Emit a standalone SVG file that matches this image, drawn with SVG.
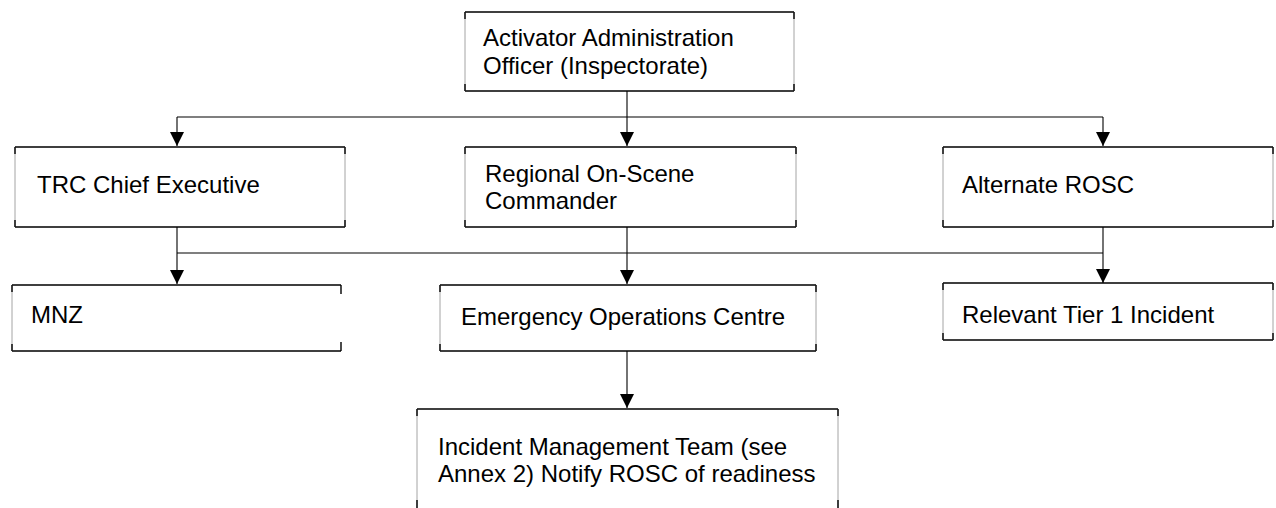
<svg xmlns="http://www.w3.org/2000/svg" width="1276" height="508" viewBox="0 0 1276 508">
<style>
  .bg{fill:#fff;stroke:none}
  .tb{stroke:#000;stroke-width:1.4;fill:none}
  .sd{stroke:#9a9a9a;stroke-width:0.9;fill:none}
  .tk{stroke:#000;stroke-width:1.4;fill:none}
  .lbl{font-family:"Liberation Sans",Arial,sans-serif;font-size:24px;fill:#000}
  .cn{stroke:#000;stroke-width:1.1;fill:none}
</style>
<defs>
  <marker id="ah" markerUnits="userSpaceOnUse" markerWidth="14" markerHeight="14" refX="14" refY="7" orient="auto">
    <path d="M0,0 L14,7 L0,14 Z" fill="#000"/>
  </marker>
</defs>
<rect width="1276" height="508" fill="#fff"/>

<g id="connectors">
  <path class="cn" d="M627,91 V117"/>
  <path class="cn" d="M177,117 H1103"/>
  <path class="cn" d="M177,117 V146" marker-end="url(#ah)"/>
  <path class="cn" d="M627,117 V146" marker-end="url(#ah)"/>
  <path class="cn" d="M1103,117 V146" marker-end="url(#ah)"/>
  <path class="cn" d="M177,227 V284" marker-end="url(#ah)"/>
  <path class="cn" d="M627,227 V284" marker-end="url(#ah)"/>
  <path class="cn" d="M1103,227 V283" marker-end="url(#ah)"/>
  <path class="cn" d="M177,253 H1103"/>
  <path class="cn" d="M627,351 V408" marker-end="url(#ah)"/>
</g>

<g id="aao">
  <rect class="bg" x="465" y="12" width="329" height="79"/>
  <path class="tb" d="M465,12 H794 M465,91 H794"/>
  <path class="sd" d="M465,12 V91 M794,12 V91"/>
  <path class="tk" d="M465,12 v7 M465,91 v-7 M794,12 v7 M794,91 v-7"/>
  <text class="lbl" x="483" y="46">Activator Administration</text>
  <text class="lbl" x="483" y="74">Officer (Inspectorate)</text>
</g>

<g id="trc">
  <rect class="bg" x="15" y="147" width="330" height="80"/>
  <path class="tb" d="M15,147 H345 M15,227 H345"/>
  <path class="sd" d="M15,147 V227 M345,147 V227"/>
  <path class="tk" d="M15,147 v7 M15,227 v-7 M345,147 v7 M345,227 v-7"/>
  <text class="lbl" x="37" y="193">TRC Chief Executive</text>
</g>

<g id="rosc">
  <rect class="bg" x="465" y="147" width="331" height="80"/>
  <path class="tb" d="M465,147 H796 M465,227 H796"/>
  <path class="sd" d="M465,147 V227 M796,147 V227"/>
  <path class="tk" d="M465,147 v7 M465,227 v-7 M796,147 v7 M796,227 v-7"/>
  <text class="lbl" x="485" y="182">Regional On-Scene</text>
  <text class="lbl" x="485" y="209">Commander</text>
</g>

<g id="alt">
  <rect class="bg" x="943" y="147" width="330" height="80"/>
  <path class="tb" d="M943,147 H1273 M943,227 H1273"/>
  <path class="sd" d="M943,147 V227 M1273,147 V227"/>
  <path class="tk" d="M943,147 v7 M943,227 v-7 M1273,147 v7 M1273,227 v-7"/>
  <text class="lbl" x="962" y="193">Alternate ROSC</text>
</g>

<g id="mnz">
  <rect class="bg" x="12" y="285" width="329" height="66"/>
  <path class="tb" d="M12,285 H341 M12,351 H341"/>
  <path class="sd" d="M12,285 V351"/>
  <path class="tk" d="M12,285 v7 M12,351 v-7 M341,285 v9 M341,351 v-9"/>
  <text class="lbl" x="31" y="323">MNZ</text>
</g>

<g id="eoc">
  <rect class="bg" x="440" y="285" width="376" height="66"/>
  <path class="tb" d="M440,285 H816 M440,351 H816"/>
  <path class="sd" d="M440,285 V351 M816,285 V351"/>
  <path class="tk" d="M440,285 v7 M440,351 v-7 M816,285 v7 M816,351 v-7"/>
  <text class="lbl" x="461" y="325">Emergency Operations Centre</text>
</g>

<g id="tier1">
  <rect class="bg" x="943" y="283" width="330" height="57"/>
  <path class="tb" d="M943,283 H1273 M943,340 H1273"/>
  <path class="sd" d="M943,283 V340 M1273,283 V340"/>
  <path class="tk" d="M943,283 v7 M943,340 v-7 M1273,283 v7 M1273,340 v-7"/>
  <text class="lbl" x="962" y="323">Relevant Tier 1 Incident</text>
</g>

<g id="imt">
  <rect class="bg" x="417" y="409" width="421" height="100"/>
  <path class="tb" d="M417,409 H838"/>
  <path class="sd" d="M417,409 V508 M838,409 V508"/>
  <path class="tk" d="M417,409 v7 M838,409 v7 M417,508 v-8 M838,508 v-8"/>
  <text class="lbl" x="438" y="455">Incident Management Team (see</text>
  <text class="lbl" x="438" y="482">Annex 2) Notify ROSC of readiness</text>
</g>
</svg>
